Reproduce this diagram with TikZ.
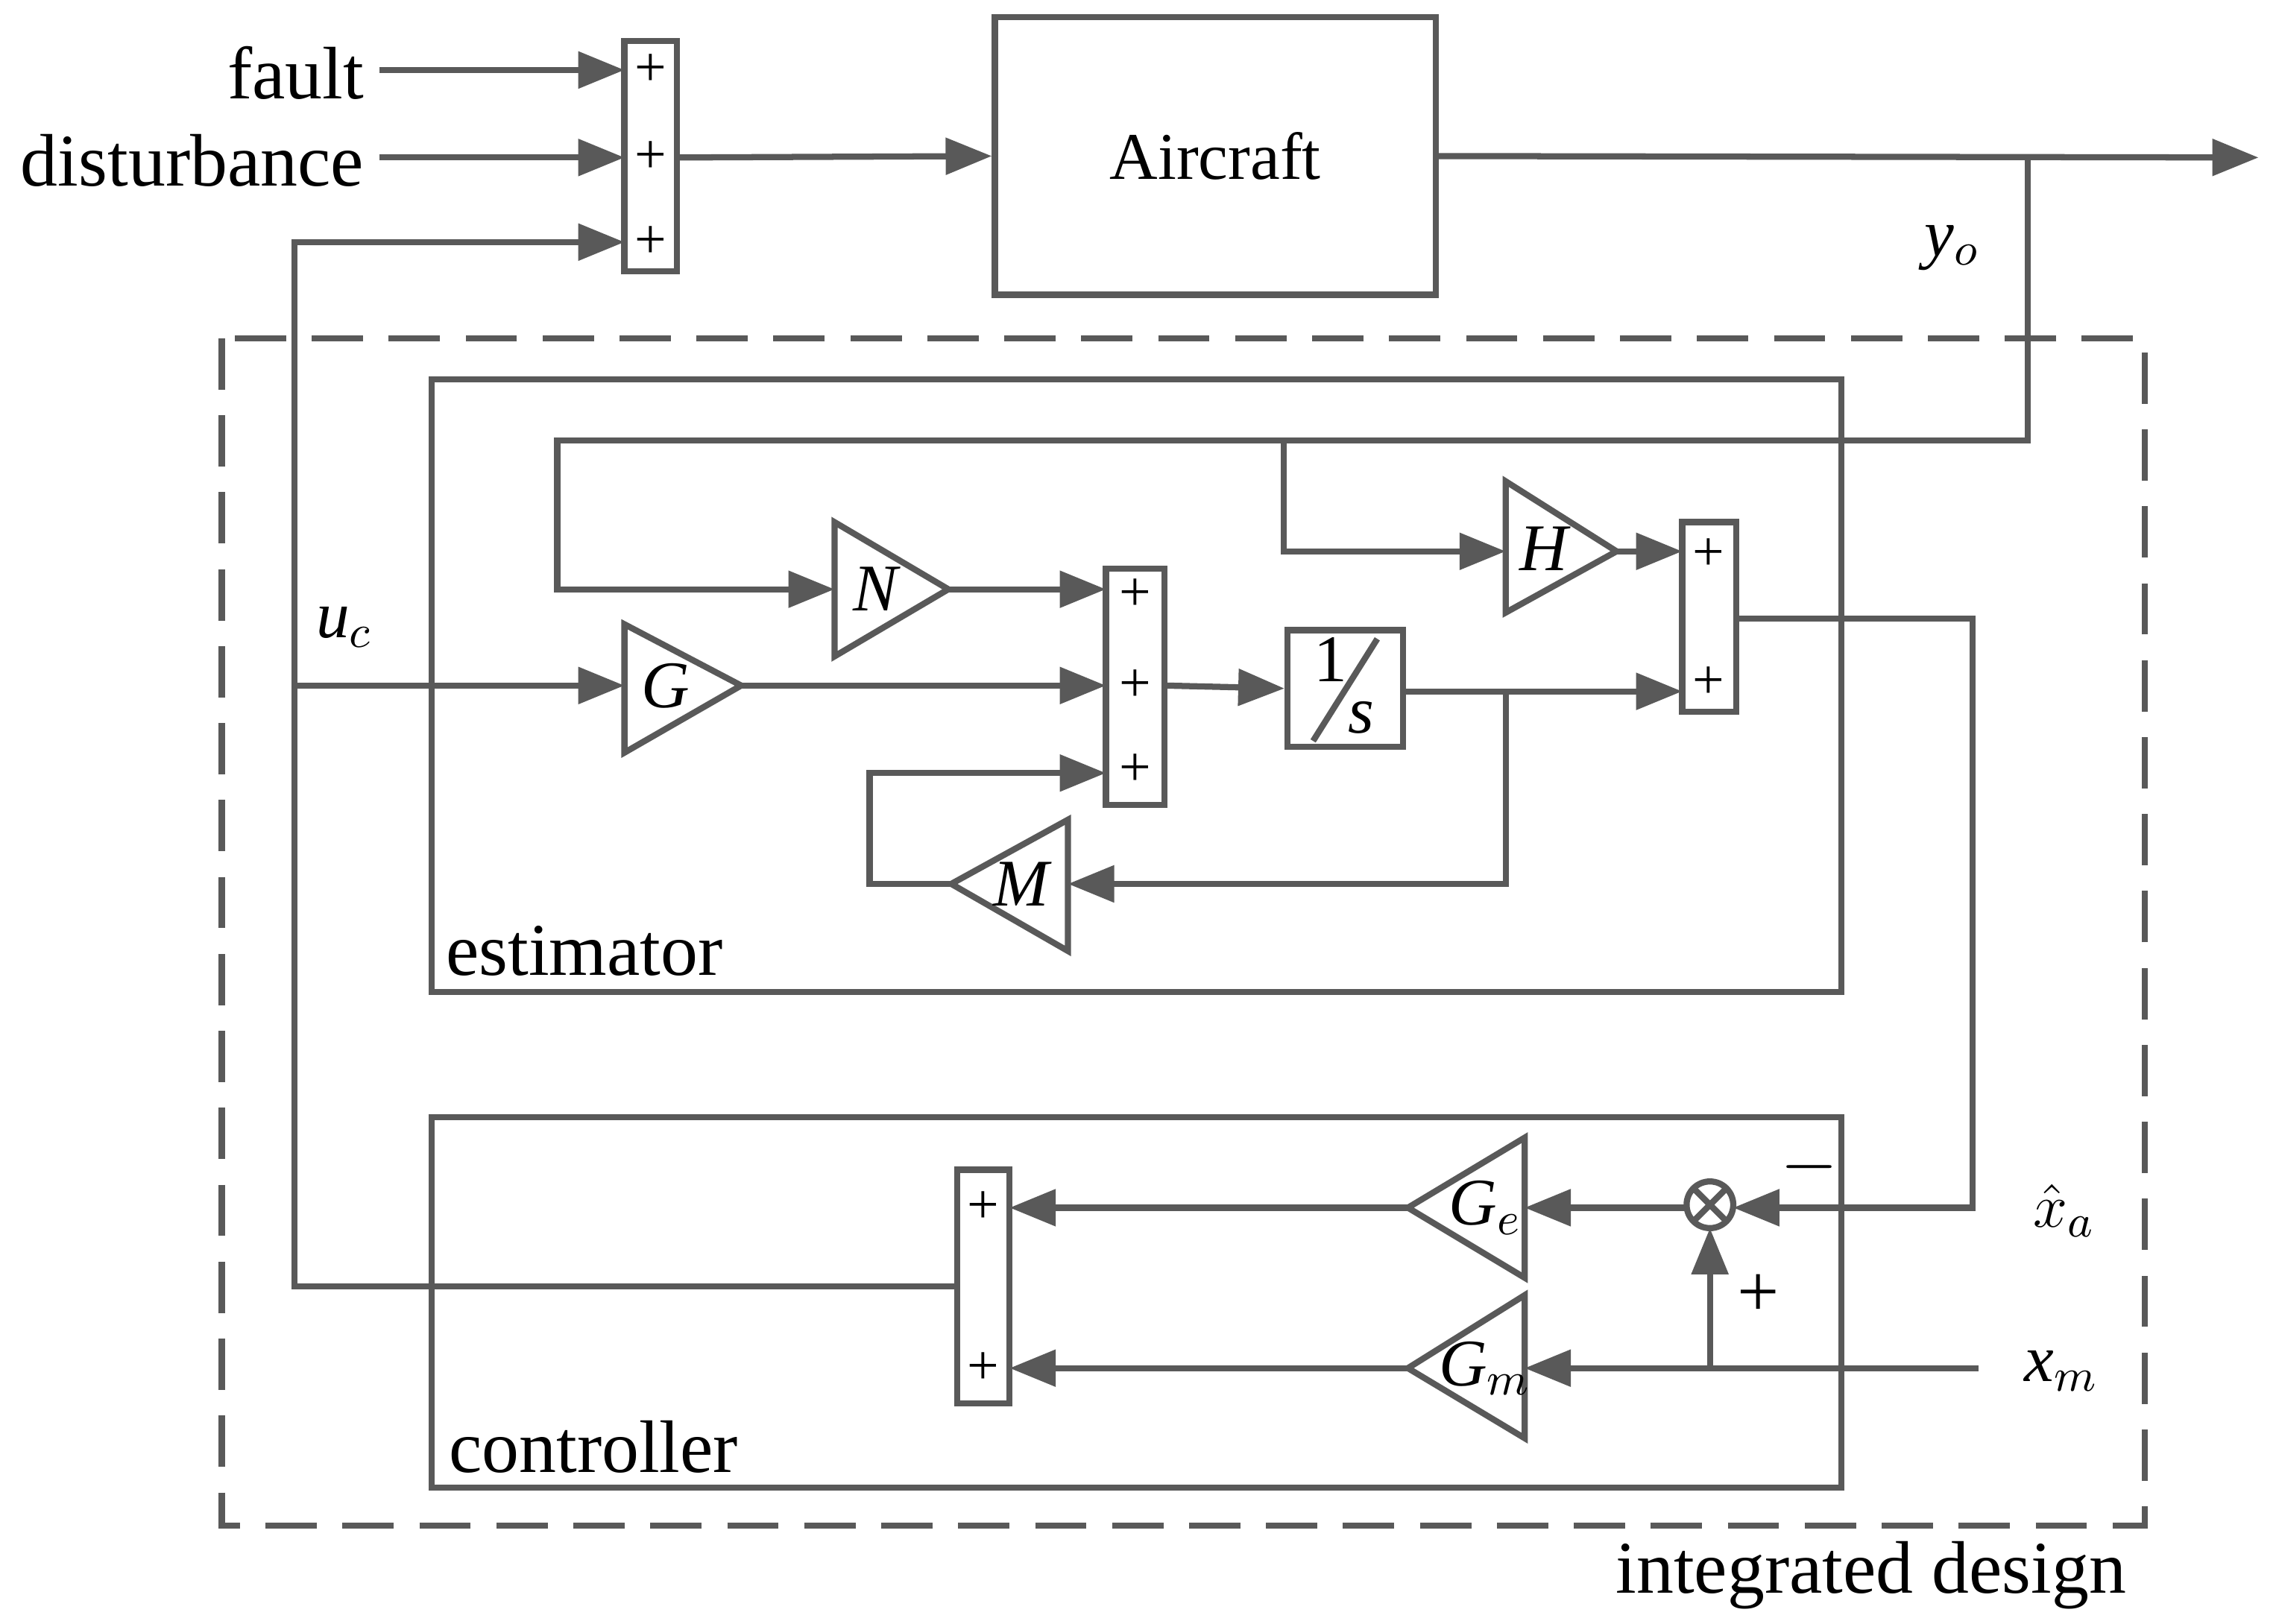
\documentclass[tikz,border=0pt]{standalone}
\usepackage{tikz}
\usepackage{fontspec}
\setmainfont{Liberation Serif}
\usetikzlibrary{arrows.meta,positioning}
\definecolor{ln}{RGB}{89,89,89}
\tikzset{
  sig/.style={draw=ln,line width=1.2pt,-{Triangle[length=9pt,width=7pt]}},
  blk/.style={draw=ln,line width=1.2pt},
  lbl/.style={font=\fontsize{14.5}{17}\selectfont,inner sep=0pt},
  pl/.style={font=\fontsize{11}{13}\selectfont,inner sep=0pt},
  gl/.style={font=\fontsize{13}{15}\selectfont\itshape,inner sep=0pt}
}
\begin{document}
\begin{tikzpicture}[x=0.01cm,y=-0.01cm]
\useasboundingbox (0,0) rectangle (1560,1113);
% outer frames
\draw[blk,dash pattern=on 10pt off 5pt] (152,232) rectangle (1470,1046);
\draw[blk] (296,260) rectangle (1262,680);
\draw[blk] (296,766) rectangle (1262,1020);
\node[lbl,anchor=west] (estl) at (305,652) {estimator};
\node[lbl,anchor=west] (ctrl) at (307,992) {controller};
\node[lbl,anchor=east] (intd) at (1458,1080) {integrated design};
% summing blocks
\draw[blk] (428,28) rectangle (464,186);
\draw[blk] (758,390) rectangle (798,552);
\draw[blk] (1153,358) rectangle (1190,488);
\draw[blk] (656,802) rectangle (692,962);
\foreach \x/\y in {446/48,446/108,446/166,778/408,778/470,778/528,1171/380,1171/468,674/828,674/938}
  \node[pl] at (\x,\y) {+};
% aircraft and integrator
\node[blk,minimum width=3.02cm,minimum height=1.9cm,font=\fontsize{13}{15}\selectfont] (ac) at (833,107) {Aircraft};
\node[blk,minimum width=0.79cm,minimum height=0.8cm,inner sep=0pt] (int) at (922,472) {};
\draw[ln,line width=1.2pt] (900,508) -- (944,438);
\node[pl,font=\fontsize{13}{15}\selectfont] (one) at (912,452) {1};
\node[gl] (ess) at (933,492) {s};
% gains
\draw[blk] (428,428) -- (508,470) -- (428,516) -- cycle; \node[gl] (G) at (456,470) {G};
\draw[blk] (572,358) -- (650,404) -- (572,450) -- cycle; \node[gl] (N) at (600,404) {N};
\draw[blk] (1032,330) -- (1108,378) -- (1032,420) -- cycle; \node[gl] (H) at (1058,376) {H};
\draw[blk] (732,562) -- (652,606) -- (732,652) -- cycle; \node[gl] (M) at (700,606) {M};
\draw[blk] (1045,780) -- (965,828) -- (1045,876) -- cycle; \node[gl] (Ge) at (1018,828) {G$_e$};
\draw[blk] (1045,888) -- (965,938) -- (1045,986) -- cycle; \node[gl] (Gm) at (1018,938) {G$_m$};
\draw[blk] (1172,826) circle (16);
\draw[ln,line width=1.2pt] (1161,815) -- (1183,837) (1161,837) -- (1183,815);
% inputs
\node[lbl,anchor=east] (flt) at (250,50) {fault};
\node[lbl,anchor=east] (dst) at (250,110) {disturbance};
\draw[sig] (260,48) -- (428,48);
\draw[sig] (260,108) -- (428,108);
\draw[sig] (464,108) -- (ac.west);
\draw[sig] (ac.east) -- (1548,108);
\node[gl] (yo) at (1338,170) {y$_o$};
% estimator wiring
\draw[sig] (1390,108) -- (1390,302) -- (382,302) -- (382,404) -- (572,404);
\draw[sig] (880,302) -- (880,378) -- (1032,378);
\draw[sig] (650,404) -- (758,404);
\draw[sig] (508,470) -- (758,470);
\draw[sig] (798,470) -- (int.west);
\draw[sig] (962,474) -- (1153,474);
\draw[sig] (1032,474) -- (1032,606) -- (732,606);
\draw[sig] (652,606) -- (596,606) -- (596,530) -- (758,530);
\draw[sig] (1108,378) -- (1153,378);
\draw[sig] (1190,424) -- (1352,424) -- (1352,828) -- (1188,828);
% controller wiring
\node[gl] (xa) at (1415,830) {$\hat{x}$$_a$};
\node[gl] (xm) at (1413,940) {x$_m$};
\node[lbl] (mn) at (1240,800) {$-$};
\node[lbl] (pp) at (1205,888) {+};
\draw[sig] (1356,938) -- (1045,938);
\draw[sig] (1172,938) -- (1172,842);
\draw[sig] (1156,828) -- (1045,828);
\draw[sig] (965,828) -- (692,828);
\draw[sig] (965,938) -- (692,938);
\draw[sig] (656,882) -- (202,882) -- (202,166) -- (428,166);
\draw[sig] (202,470) -- (428,470);
\node[gl] (uc) at (236,430) {u$_c$};
\end{tikzpicture}
\end{document}
